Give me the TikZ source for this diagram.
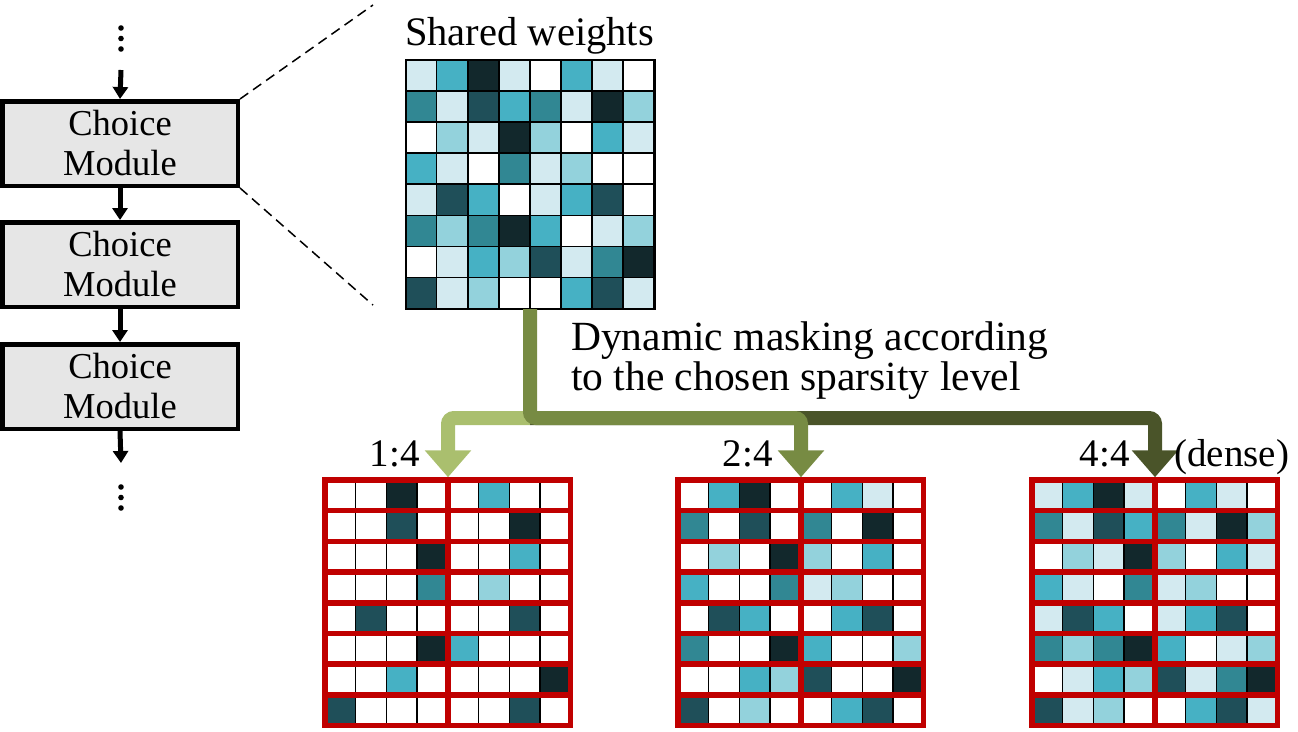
\documentclass[tikz,border=0pt]{standalone}
\usepackage{fontspec}
\setmainfont{Liberation Serif}
\usetikzlibrary{arrows.meta}
\definecolor{cW}{HTML}{FFFFFF}
\definecolor{cL}{HTML}{D3EAF0}
\definecolor{cM}{HTML}{93D2DC}
\definecolor{cC}{HTML}{46B1C4}
\definecolor{cT}{HTML}{318793}
\definecolor{cD}{HTML}{1F4F59}
\definecolor{cK}{HTML}{12282C}
\definecolor{gLight}{HTML}{AABF6E}
\definecolor{gMid}{HTML}{778B43}
\definecolor{gDark}{HTML}{4A5429}
\definecolor{maskred}{HTML}{C00000}
\definecolor{boxgray}{HTML}{E6E6E6}
\def\mpitch{30.7}
\def\spitch{31.08}
\newcommand{\maskgrid}[3]{%
  \foreach \row [count=\r from 0] in {#3} {
    \foreach \c [count=\k from 0] in \row {
      \fill[fill=c\c] ({#1+\k*\mpitch},{#2+\r*\mpitch}) rectangle ++(\mpitch,\mpitch);
    }
  }
  \foreach \k in {1,2,3,5,6,7}
    \draw[line width=1.3pt,black] ({#1+\k*\mpitch},#2) -- ++(0,{8*\mpitch});
  \foreach \r in {1,...,7}
    \draw[line width=5.5pt,maskred] (#1,{#2+\r*\mpitch}) -- ++({8*\mpitch},0);
  \draw[line width=5.5pt,maskred] ({#1+4*\mpitch},#2) -- ++(0,{8*\mpitch});
  \draw[line width=5.5pt,maskred] (#1,#2) rectangle ++({8*\mpitch},{8*\mpitch});
}
\tikzset{
  modbox/.style={draw=black, line width=4.5pt, fill=boxgray, minimum width=235.5pt,
    minimum height=84.5pt, inner sep=0pt, align=center,
    font=\fontsize{36.5}{40}\selectfont},
  blkarrow/.style={line width=5pt, -{Triangle[width=15pt,length=12pt]}},
  greenarrow/.style={line width=14pt, rounded corners=6pt, -{Triangle[width=45pt,length=27pt]}},
  ratio/.style={font=\fontsize{39}{44}\selectfont, inner sep=0pt},
  zoomline/.style={dashed, line width=1.5pt, dash pattern=on 10pt off 6pt},
  matnode/.style={inner sep=0pt, minimum width=245.6pt, minimum height=245.6pt, anchor=north west}
}
\begin{document}
\begin{tikzpicture}[x=1pt,y=-1pt]
\useasboundingbox (0,0) rectangle (1298,731);
% left column
\node[modbox] (m1) at (120,143.5) {Choice\\Module};
\node[modbox] (m2) at (120,264.5) {Choice\\Module};
\node[modbox] (m3) at (120,386.5) {Choice\\Module};
\foreach \yy in {28,38.5,49} \fill (121,\yy) circle (2.8);
\foreach \yy in {487,497.5,508} \fill (121,\yy) circle (2.8);
\coordinate (intop) at (121,70);
\coordinate (outbot) at (121,463);
\draw[blkarrow] (intop) -- (m1.north);
\draw[blkarrow] (m1.south) -- (m2.north);
\draw[blkarrow] (m2.south) -- (m3.north);
\draw[blkarrow] (m3.south) -- (outbot);
% zoom lines
\coordinate (zt) at (373,5);
\coordinate (zb) at (373,305);
\draw[zoomline] (m1.north east) -- (zt);
\draw[zoomline] (m1.south east) -- (zb);
% shared weights
\node[anchor=base, font=\fontsize{40.5}{44}\selectfont] (swlabel) at (529.5,45) {Shared weights};
\node[inner sep=0pt, minimum width=248.6pt, minimum height=248.6pt, anchor=north west] (sw) at (405.5,60) {};
\foreach \row [count=\r from 0] in {{L,C,K,L,W,C,L,W},{T,L,D,C,T,L,K,M},{W,M,L,K,M,W,C,L},{C,L,W,T,L,M,W,W},{L,D,C,W,L,C,D,W},{T,M,T,K,C,W,L,M},{W,L,C,M,D,L,T,K},{D,L,M,W,W,C,D,L}} {
  \foreach \c [count=\k from 0] in \row {
    \filldraw[fill=c\c, draw=black, line width=1.7pt] ({405.5+\k*\spitch},{60+\r*\spitch}) rectangle ++(\spitch,\spitch);
  }
}
\draw[line width=2pt] (sw.north west) rectangle (sw.south east);
% masked matrices
\node[matnode] (mA) at (325,480) {};
\node[matnode] (mB) at (678,480) {};
\node[matnode] (mC) at (1032,480) {};
\maskgrid{325}{480}{{W,W,K,W,W,C,W,W},{W,W,D,W,W,W,K,W},{W,W,W,K,W,W,C,W},{W,W,W,T,W,M,W,W},{W,D,W,W,W,W,D,W},{W,W,W,K,C,W,W,W},{W,W,C,W,W,W,W,K},{D,W,W,W,W,W,D,W}}
\maskgrid{678}{480}{{W,C,K,W,W,C,L,W},{T,W,D,W,T,W,K,W},{W,M,W,K,M,W,C,W},{C,W,W,T,L,M,W,W},{W,D,C,W,W,C,D,W},{T,W,W,K,C,W,W,M},{W,W,C,M,D,W,W,K},{D,W,M,W,W,C,D,W}}
\maskgrid{1032}{480}{{L,C,K,L,W,C,L,W},{T,L,D,C,T,L,K,M},{W,M,L,K,M,W,C,L},{C,L,W,T,L,M,W,W},{L,D,C,W,L,C,D,W},{T,M,T,K,C,W,L,M},{W,L,C,M,D,L,T,K},{D,L,M,W,W,C,D,L}}
% branching arrows
\coordinate (j) at (sw.south |- 0,418);
\coordinate (t1) at ([yshift=2.75pt]mA.north);
\coordinate (t2) at ([yshift=2.75pt]mB.north);
\coordinate (t3) at ([yshift=2.75pt]mC.north);
\draw[greenarrow, gDark] (j) -| (t3);
\draw[greenarrow, gLight] (j) -| (t1);
\draw[greenarrow, gMid] (sw.south) -- (j) -| (t2);
% texts
\node[anchor=north west, inner sep=0pt, align=left, font=\fontsize{41.5}{40}\selectfont] (dyn) at (571,321)
  {Dynamic masking according\\to the chosen sparsity level};
\node[ratio, anchor=base east] (l1) at (420,466) {1:4};
\node[ratio, anchor=base east] (l2) at (773,466) {2:4};
\node[ratio, anchor=base east] (l3) at (1130,466) {4:4};
\node[ratio, anchor=base west] (l4) at (1174,466) {(dense)};
\end{tikzpicture}
\end{document}
